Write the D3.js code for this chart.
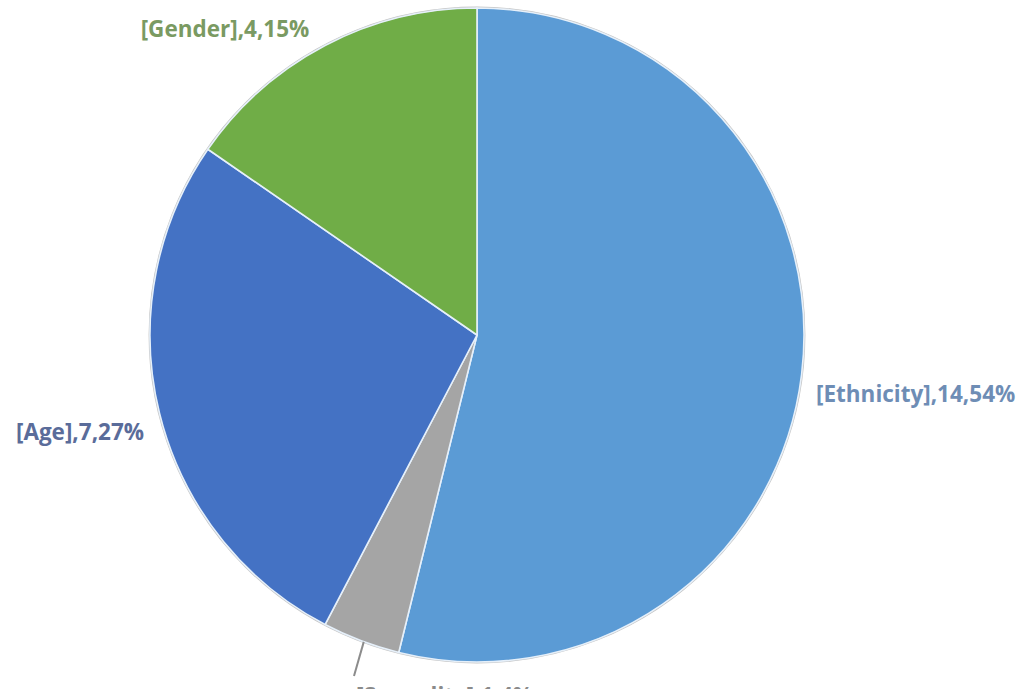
<!DOCTYPE html>
<html>
<head>
<meta charset="utf-8">
<script src="https://cdn.jsdelivr.net/npm/d3@7"></script>
<style>
  html, body { margin: 0; padding: 0; background: #ffffff; overflow: hidden; }
  svg { display: block; }
</style>
</head>
<body>
<svg id="chart" width="1021" height="689"></svg>
<script>
// Pie data: category names, counts and percentage labels
const categories = ["[Ethnicity]", "[Sexuality]", "[Age]", "[Gender]"];
const counts = [14, 1, 7, 4];
const percents = ["54%", "4%", "27%", "15%"];
const sliceColors = ["#5B9BD5", "#A5A5A5", "#4472C4", "#70AD47"];
const labelColors = ["#6E8DB5", "#8A8A8A", "#5A6C9A", "#7A9A62"];

const svg = d3.select("#chart");
const cx = 477, cy = 335, radius = 327;

const data = categories.map((c, i) => ({
  name: c, value: counts[i], pct: percents[i],
  color: sliceColors[i], labelColor: labelColors[i]
}));

const pie = d3.pie().value(d => d.value).sort(null);
const arcs = pie(data);
const arc = d3.arc().innerRadius(0).outerRadius(radius);

const g = svg.append("g").attr("transform", `translate(${cx},${cy})`);

// soft rim around the pie
g.append("circle")
  .attr("r", radius + 0.5)
  .attr("fill", "none")
  .attr("stroke", "#c4c4c4")
  .attr("stroke-width", 1.8);

g.selectAll("path.slice")
  .data(arcs)
  .enter().append("path")
  .attr("class", "slice")
  .attr("d", arc)
  .attr("fill", d => d.data.color)
  .attr("stroke", "#e6f0fa")
  .attr("stroke-width", 1.6)
  .attr("stroke-linejoin", "round");

// label placement (text anchor, x, baseline y) per slice
const labelLayout = [
  { anchor: "start",  x: 816, y: 402 },
  { anchor: "start",  x: 356, y: 704 },
  { anchor: "middle", x: 80,  y: 440 },
  { anchor: "middle", x: 225, y: 37 }
];

// leader line for the small slice, from its outer edge down toward its label
const small = arcs[1];
const midA = (small.startAngle + small.endAngle) / 2;
const p0 = [Math.sin(midA) * (radius - 2), -Math.cos(midA) * (radius - 2)];
svg.append("line")
  .attr("x1", cx + p0[0] + 2).attr("y1", cy + p0[1] + 3)
  .attr("x2", 354).attr("y2", 676)
  .attr("stroke", "#8c8c8c")
  .attr("stroke-width", 2);

svg.selectAll("text.lbl")
  .data(arcs)
  .enter().append("text")
  .attr("class", "lbl")
  .attr("x", (d, i) => labelLayout[i].x)
  .attr("y", (d, i) => labelLayout[i].y)
  .attr("text-anchor", (d, i) => labelLayout[i].anchor)
  .attr("fill", d => d.data.labelColor)
  .style("font-family", "'Open Sans', sans-serif")
  .style("font-weight", "bold")
  .style("font-size", "22.5px")
  .text(d => `${d.data.name},${d.data.value},${d.data.pct}`);
</script>
</body>
</html>
